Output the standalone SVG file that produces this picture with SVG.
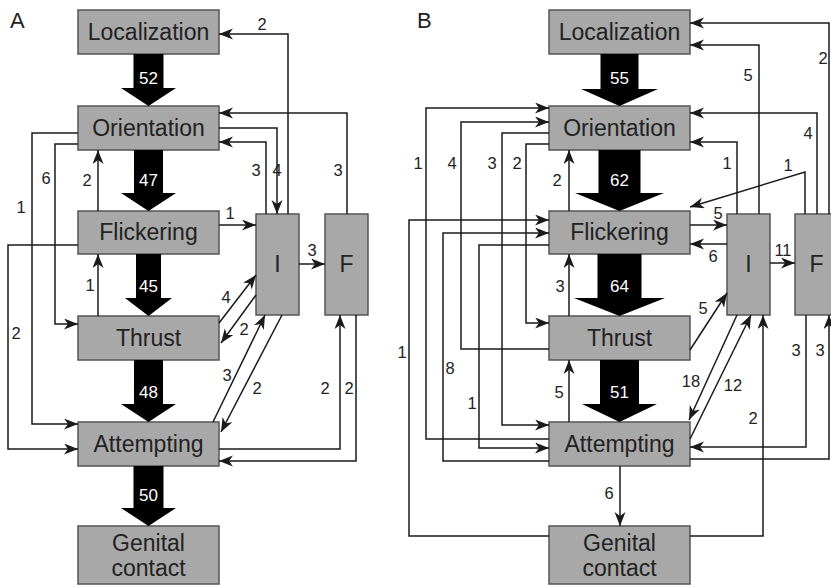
<svg xmlns="http://www.w3.org/2000/svg" width="831" height="586" viewBox="0 0 831 586">
<defs>
<marker id="ah" markerUnits="userSpaceOnUse" markerWidth="16" markerHeight="12" refX="14" refY="5.5" orient="auto">
<path d="M0,0 L14,5.5 L0,11 L4,5.5 Z" fill="#1a1a1a"/>
</marker>
</defs>
<style>
.box{fill:#a8a8a8;stroke:#555;stroke-width:1.5}
.bt{font-family:"Liberation Sans",Arial,sans-serif;font-size:23px;fill:#222;text-anchor:middle}
.c path{fill:none;stroke:#1a1a1a;stroke-width:1.5;marker-end:url(#ah)}
.lb{font-family:"Liberation Sans",Arial,sans-serif;font-size:16.5px;fill:#222;text-anchor:middle}
.fat{fill:#000}
.fl{font-family:"Liberation Sans",Arial,sans-serif;font-size:17px;fill:#fff;text-anchor:middle}
.pl{font-family:"Liberation Sans",Arial,sans-serif;font-size:22px;fill:#222}
</style>
<rect width="831" height="586" fill="#fff"/>
<text class="pl" x="10" y="28">A</text>
<text class="pl" x="417" y="28">B</text>

<!-- Panel A nodes -->
<g id="A-localization"><rect class="box" x="78" y="10" width="141" height="44"/><text class="bt" x="148.5" y="40">Localization</text></g>
<g id="A-orientation"><rect class="box" x="78" y="106" width="141" height="44"/><text class="bt" x="148.5" y="136">Orientation</text></g>
<g id="A-flickering"><rect class="box" x="78" y="211" width="141" height="43"/><text class="bt" x="148.5" y="240">Flickering</text></g>
<g id="A-thrust"><rect class="box" x="78" y="316" width="141" height="44"/><text class="bt" x="148.5" y="346">Thrust</text></g>
<g id="A-attempting"><rect class="box" x="78" y="422" width="141" height="44"/><text class="bt" x="148.5" y="452">Attempting</text></g>
<g id="A-genital"><rect class="box" x="78" y="526" width="141" height="58"/><text class="bt" x="148.5" y="551">Genital</text><text class="bt" x="148.5" y="576">contact</text></g>
<g id="A-I"><rect class="box" x="256" y="214" width="43" height="101"/><text class="bt" x="277.5" y="272">I</text></g>
<g id="A-F"><rect class="box" x="325" y="214" width="43" height="101"/><text class="bt" x="346.5" y="272">F</text></g>

<!-- Panel B nodes -->
<g id="B-localization"><rect class="box" x="549" y="10" width="141" height="44"/><text class="bt" x="619.5" y="40">Localization</text></g>
<g id="B-orientation"><rect class="box" x="549" y="106" width="141" height="44"/><text class="bt" x="619.5" y="136">Orientation</text></g>
<g id="B-flickering"><rect class="box" x="549" y="211" width="141" height="43"/><text class="bt" x="619.5" y="240">Flickering</text></g>
<g id="B-thrust"><rect class="box" x="549" y="316" width="141" height="44"/><text class="bt" x="619.5" y="346">Thrust</text></g>
<g id="B-attempting"><rect class="box" x="549" y="422" width="141" height="44"/><text class="bt" x="619.5" y="452">Attempting</text></g>
<g id="B-genital"><rect class="box" x="549" y="526" width="141" height="58"/><text class="bt" x="619.5" y="551">Genital</text><text class="bt" x="619.5" y="576">contact</text></g>
<g id="B-I"><rect class="box" x="727" y="214" width="43" height="101"/><text class="bt" x="748.5" y="272">I</text></g>
<g id="B-F"><rect class="box" x="795" y="214" width="43" height="101"/><text class="bt" x="816.5" y="272">F</text></g>

<!-- Fat arrows -->
<g id="fat-arrows">
<path class="fat" d="M133.5,54 H163.5 V88 H176 L148.5,106 L121,88 H133.5 Z"/><text class="fl" x="148.5" y="84">52</text>
<path class="fat" d="M134,150 H163 V193 H176 L148.5,211 L121,193 H134 Z"/><text class="fl" x="148.5" y="186">47</text>
<path class="fat" d="M136,254 H161 V298 H172 L148.5,316 L125,298 H136 Z"/><text class="fl" x="148.5" y="292">45</text>
<path class="fat" d="M134,360 H163 V404 H176 L148.5,422 L121,404 H134 Z"/><text class="fl" x="148.5" y="398">48</text>
<path class="fat" d="M133.5,466 H163.5 V508 H176 L148.5,526 L121,508 H133.5 Z"/><text class="fl" x="148.5" y="501">50</text>
<path class="fat" d="M600.5,54 H638.5 V89 H658 L619.5,106 L581,89 H600.5 Z"/><text class="fl" x="619.5" y="84">55</text>
<path class="fat" d="M598.5,150 H640.5 V193 H664 L619.5,211 L575,193 H598.5 Z"/><text class="fl" x="619.5" y="186">62</text>
<path class="fat" d="M597.5,254 H641.5 V298 H665 L619.5,316 L574,298 H597.5 Z"/><text class="fl" x="619.5" y="292">64</text>
<path class="fat" d="M600,360 H639 V404 H657 L619.5,422 L582,404 H600 Z"/><text class="fl" x="619.5" y="398">51</text>
</g>

<!-- Connectors -->
<g id="connectors" class="c">
<!-- Panel A -->
<path d="M288,214 V34 H219"/>
<path d="M347,214 V113 H219"/>
<path d="M219,128 H277 V214"/>
<path d="M266,214 V142 H219"/>
<path d="M219,225 H256"/>
<path d="M299,264 H325"/>
<path d="M219,323 L256,275"/>
<path d="M256,295 L221,343"/>
<path d="M213,422 L265,315"/>
<path d="M282,315 L221,432"/>
<path d="M219,449 H340 V315"/>
<path d="M356,315 V461 H219"/>
<path d="M78,133 H32 V424 H78"/>
<path d="M78,144 H55 V324 H78"/>
<path d="M98,211 V150"/>
<path d="M98,316 V254"/>
<path d="M78,245 H8 V449 H78"/>
<!-- Panel B -->
<path d="M759,214 V45 H690"/>
<path d="M829,214 V23 H690"/>
<path d="M817,214 V113 H690"/>
<path d="M737,214 V142 H690"/>
<path d="M805,214 V172 L690,207"/>
<path d="M690,225 H727"/>
<path d="M727,244 H690"/>
<path d="M770,263 H795"/>
<path d="M690,350 L727,293"/>
<path d="M737,315 L689,420"/>
<path d="M690,439 L751,315"/>
<path d="M690,536 H763 V315"/>
<path d="M806,315 V447 H690"/>
<path d="M690,459 H829 V315"/>
<path d="M569,211 V150"/>
<path d="M569,316 V254"/>
<path d="M569,422 V360"/>
<path d="M620,466 V526"/>
<path d="M549,439 H426 V108 H549"/>
<path d="M549,349 H461 V122 H549"/>
<path d="M549,133 H502 V425 H549"/>
<path d="M549,144 H526 V323 H549"/>
<path d="M549,536 H409 V220 H549"/>
<path d="M549,461 H443 V233 H549"/>
<path d="M549,245 H479 V448 H549"/>
</g>

<!-- Connector labels -->
<g id="labels">
<text class="lb" x="262" y="30">2</text>
<text class="lb" x="338" y="176">3</text>
<text class="lb" x="277" y="176">4</text>
<text class="lb" x="256" y="176">3</text>
<text class="lb" x="230" y="219">1</text>
<text class="lb" x="312" y="256">3</text>
<text class="lb" x="226" y="303">4</text>
<text class="lb" x="244" y="335">2</text>
<text class="lb" x="227" y="381">3</text>
<text class="lb" x="257" y="394">2</text>
<text class="lb" x="325" y="394">2</text>
<text class="lb" x="349" y="394">2</text>
<text class="lb" x="21" y="213">1</text>
<text class="lb" x="46" y="184">6</text>
<text class="lb" x="87" y="186">2</text>
<text class="lb" x="90" y="291">1</text>
<text class="lb" x="16" y="339">2</text>

<text class="lb" x="748" y="81">5</text>
<text class="lb" x="823" y="64">2</text>
<text class="lb" x="808" y="139">4</text>
<text class="lb" x="727" y="169">1</text>
<text class="lb" x="788" y="171">1</text>
<text class="lb" x="718" y="219">5</text>
<text class="lb" x="713" y="262">6</text>
<text class="lb" x="783" y="256">11</text>
<text class="lb" x="703" y="314">5</text>
<text class="lb" x="691" y="387">18</text>
<text class="lb" x="733" y="391">12</text>
<text class="lb" x="753" y="424">2</text>
<text class="lb" x="796" y="356">3</text>
<text class="lb" x="820" y="356">3</text>
<text class="lb" x="557" y="186">2</text>
<text class="lb" x="560" y="292">3</text>
<text class="lb" x="559" y="398">5</text>
<text class="lb" x="609" y="499">6</text>
<text class="lb" x="418" y="169">1</text>
<text class="lb" x="452" y="169">4</text>
<text class="lb" x="492" y="169">3</text>
<text class="lb" x="517" y="169">2</text>
<text class="lb" x="402" y="358">1</text>
<text class="lb" x="450" y="374">8</text>
<text class="lb" x="472" y="409">1</text>
</g>
</svg>
